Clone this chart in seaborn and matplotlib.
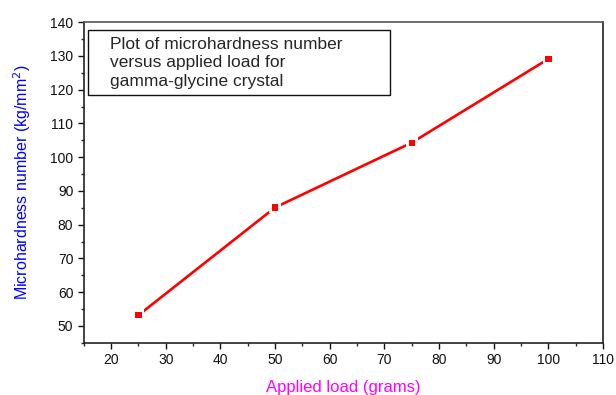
import matplotlib
matplotlib.use("Agg")
import matplotlib.pyplot as plt
from matplotlib.ticker import MultipleLocator
from matplotlib.patches import Rectangle
import seaborn as sns
import pandas as pd

load_grams = [25, 50, 75, 100]
microhardness = [53.2, 85.1, 104.3, 129.1]

df = pd.DataFrame({"load": load_grams, "hv": microhardness})

sns.set_style("ticks")
plt.rcParams["font.family"] = ["Liberation Sans", "DejaVu Sans"]

fig = plt.figure(figsize=(6.16, 3.95), dpi=100)
ax = fig.add_axes([0.136, 0.132, 0.843, 0.812])

# connecting line, broken around each point by a white square halo
sns.lineplot(data=df, x="load", y="hv", ax=ax, color="#ff0000", linewidth=1.9)
sns.scatterplot(data=df, x="load", y="hv", ax=ax, marker="s", s=72,
                color="white", edgecolor="none", zorder=3)
sns.scatterplot(data=df, x="load", y="hv", ax=ax, marker="s", s=20,
                color="#ff0000", edgecolor="none", zorder=4)

ax.set_xlim(15, 110)
ax.set_ylim(45, 140)
ax.xaxis.set_major_locator(MultipleLocator(10))
ax.xaxis.set_minor_locator(MultipleLocator(5))
ax.yaxis.set_major_locator(MultipleLocator(10))
ax.yaxis.set_minor_locator(MultipleLocator(5))
ax.tick_params(which="major", direction="out", length=4, width=1, labelsize=10,
               colors="#111111")
ax.tick_params(which="minor", direction="out", length=2.5, width=1)
ax.tick_params(top=False, right=False)

for side in ["left", "bottom", "top", "right"]:
    ax.spines[side].set_visible(True)
    ax.spines[side].set_linewidth(1.2)
    ax.spines[side].set_color("#222222")
ax.spines["top"].set_color("#555555")

ax.set_xlabel("Applied load (grams)", color="#ff00ff", fontsize=12, labelpad=9)
ax.set_ylabel("Microhardness number (kg/mm$^2$)", color="#0000ff", fontsize=11.5,
              labelpad=12)

# caption box
ax.add_patch(Rectangle((0.008, 0.773), 0.582, 0.202, transform=ax.transAxes,
                       facecolor="white", edgecolor="#111111", linewidth=1,
                       zorder=5))
ax.text(0.05, 0.955,
        "Plot of microhardness number\nversus applied load for\ngamma-glycine crystal",
        transform=ax.transAxes, ha="left", va="top", fontsize=12.5,
        linespacing=1.3, zorder=6)

fig.savefig("out.png", dpi=100)
